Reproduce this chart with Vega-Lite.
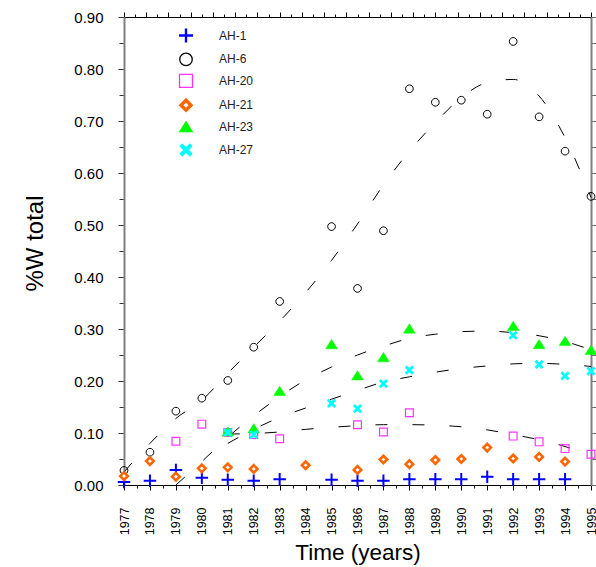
{
  "$schema": "https://vega.github.io/schema/vega-lite/v6.json",
  "width": 467,
  "height": 468,
  "autosize": "none",
  "padding": {"left": 124, "top": 17, "right": 5, "bottom": 82},
  "background": "white",
  "config": {
    "view": {"stroke": null},
    "axis": {"grid": false, "domainColor": "#000000", "tickColor": "#000000", "labelColor": "#000000", "titleColor": "#000000", "labelFont": "Liberation Sans", "titleFont": "Liberation Sans", "titleFontWeight": "normal"},
    "legend": {"labelFont": "Liberation Sans"}
  },
  "datasets": {
    "pts": [
      {"series": "AH-1", "year": 1977, "v": 0.006}, {"series": "AH-1", "year": 1978, "v": 0.008}, {"series": "AH-1", "year": 1979, "v": 0.029}, {"series": "AH-1", "year": 1980, "v": 0.014}, {"series": "AH-1", "year": 1981, "v": 0.010}, {"series": "AH-1", "year": 1982, "v": 0.008}, {"series": "AH-1", "year": 1983, "v": 0.011}, {"series": "AH-1", "year": 1985, "v": 0.010}, {"series": "AH-1", "year": 1986, "v": 0.008}, {"series": "AH-1", "year": 1987, "v": 0.008}, {"series": "AH-1", "year": 1988, "v": 0.011}, {"series": "AH-1", "year": 1989, "v": 0.011}, {"series": "AH-1", "year": 1990, "v": 0.011}, {"series": "AH-1", "year": 1991, "v": 0.016}, {"series": "AH-1", "year": 1992, "v": 0.011}, {"series": "AH-1", "year": 1993, "v": 0.011}, {"series": "AH-1", "year": 1994, "v": 0.011},
      {"series": "AH-6", "year": 1977, "v": 0.028}, {"series": "AH-6", "year": 1978, "v": 0.063}, {"series": "AH-6", "year": 1979, "v": 0.142}, {"series": "AH-6", "year": 1980, "v": 0.167}, {"series": "AH-6", "year": 1981, "v": 0.201}, {"series": "AH-6", "year": 1982, "v": 0.265}, {"series": "AH-6", "year": 1983, "v": 0.353}, {"series": "AH-6", "year": 1985, "v": 0.497}, {"series": "AH-6", "year": 1986, "v": 0.378}, {"series": "AH-6", "year": 1987, "v": 0.489}, {"series": "AH-6", "year": 1988, "v": 0.762}, {"series": "AH-6", "year": 1989, "v": 0.736}, {"series": "AH-6", "year": 1990, "v": 0.740}, {"series": "AH-6", "year": 1991, "v": 0.713}, {"series": "AH-6", "year": 1992, "v": 0.853}, {"series": "AH-6", "year": 1993, "v": 0.708}, {"series": "AH-6", "year": 1994, "v": 0.642}, {"series": "AH-6", "year": 1995, "v": 0.555},
      {"series": "AH-20", "year": 1979, "v": 0.084}, {"series": "AH-20", "year": 1980, "v": 0.117}, {"series": "AH-20", "year": 1981, "v": 0.101}, {"series": "AH-20", "year": 1982, "v": 0.097}, {"series": "AH-20", "year": 1983, "v": 0.089}, {"series": "AH-20", "year": 1986, "v": 0.116}, {"series": "AH-20", "year": 1987, "v": 0.102}, {"series": "AH-20", "year": 1988, "v": 0.139}, {"series": "AH-20", "year": 1992, "v": 0.094}, {"series": "AH-20", "year": 1993, "v": 0.083}, {"series": "AH-20", "year": 1994, "v": 0.070}, {"series": "AH-20", "year": 1995, "v": 0.059},
      {"series": "AH-21", "year": 1977, "v": 0.017}, {"series": "AH-21", "year": 1978, "v": 0.046}, {"series": "AH-21", "year": 1979, "v": 0.016}, {"series": "AH-21", "year": 1980, "v": 0.032}, {"series": "AH-21", "year": 1981, "v": 0.034}, {"series": "AH-21", "year": 1982, "v": 0.031}, {"series": "AH-21", "year": 1984, "v": 0.038}, {"series": "AH-21", "year": 1986, "v": 0.029}, {"series": "AH-21", "year": 1987, "v": 0.049}, {"series": "AH-21", "year": 1988, "v": 0.040}, {"series": "AH-21", "year": 1989, "v": 0.048}, {"series": "AH-21", "year": 1990, "v": 0.050}, {"series": "AH-21", "year": 1991, "v": 0.072}, {"series": "AH-21", "year": 1992, "v": 0.051}, {"series": "AH-21", "year": 1993, "v": 0.054}, {"series": "AH-21", "year": 1994, "v": 0.045},
      {"series": "AH-23", "year": 1981, "v": 0.103}, {"series": "AH-23", "year": 1982, "v": 0.109}, {"series": "AH-23", "year": 1983, "v": 0.181}, {"series": "AH-23", "year": 1985, "v": 0.271}, {"series": "AH-23", "year": 1986, "v": 0.211}, {"series": "AH-23", "year": 1987, "v": 0.246}, {"series": "AH-23", "year": 1988, "v": 0.301}, {"series": "AH-23", "year": 1992, "v": 0.306}, {"series": "AH-23", "year": 1993, "v": 0.271}, {"series": "AH-23", "year": 1994, "v": 0.277}, {"series": "AH-23", "year": 1995, "v": 0.260},
      {"series": "AH-27", "year": 1981, "v": 0.101}, {"series": "AH-27", "year": 1982, "v": 0.097}, {"series": "AH-27", "year": 1985, "v": 0.157}, {"series": "AH-27", "year": 1986, "v": 0.147}, {"series": "AH-27", "year": 1987, "v": 0.195}, {"series": "AH-27", "year": 1988, "v": 0.221}, {"series": "AH-27", "year": 1992, "v": 0.288}, {"series": "AH-27", "year": 1993, "v": 0.232}, {"series": "AH-27", "year": 1994, "v": 0.210}, {"series": "AH-27", "year": 1995, "v": 0.219}
    ],
    "fits": [
      {"fit": "AH-6", "year": 1977, "v": 0.025}, {"fit": "AH-6", "year": 1978, "v": 0.080}, {"fit": "AH-6", "year": 1979, "v": 0.128}, {"fit": "AH-6", "year": 1980, "v": 0.163}, {"fit": "AH-6", "year": 1981, "v": 0.215}, {"fit": "AH-6", "year": 1982, "v": 0.265}, {"fit": "AH-6", "year": 1983, "v": 0.315}, {"fit": "AH-6", "year": 1984, "v": 0.370}, {"fit": "AH-6", "year": 1985, "v": 0.432}, {"fit": "AH-6", "year": 1986, "v": 0.502}, {"fit": "AH-6", "year": 1987, "v": 0.577}, {"fit": "AH-6", "year": 1988, "v": 0.642}, {"fit": "AH-6", "year": 1989, "v": 0.697}, {"fit": "AH-6", "year": 1990, "v": 0.745}, {"fit": "AH-6", "year": 1991, "v": 0.774}, {"fit": "AH-6", "year": 1992, "v": 0.780}, {"fit": "AH-6", "year": 1993, "v": 0.748}, {"fit": "AH-6", "year": 1994, "v": 0.668}, {"fit": "AH-6", "year": 1995, "v": 0.553},
      {"fit": "AH-23", "year": 1979, "v": 0.0}, {"fit": "AH-23", "year": 1980, "v": 0.045}, {"fit": "AH-23", "year": 1981, "v": 0.092}, {"fit": "AH-23", "year": 1982, "v": 0.133}, {"fit": "AH-23", "year": 1983, "v": 0.170}, {"fit": "AH-23", "year": 1984, "v": 0.202}, {"fit": "AH-23", "year": 1985, "v": 0.227}, {"fit": "AH-23", "year": 1986, "v": 0.250}, {"fit": "AH-23", "year": 1987, "v": 0.267}, {"fit": "AH-23", "year": 1988, "v": 0.282}, {"fit": "AH-23", "year": 1989, "v": 0.290}, {"fit": "AH-23", "year": 1990, "v": 0.295}, {"fit": "AH-23", "year": 1991, "v": 0.296}, {"fit": "AH-23", "year": 1992, "v": 0.293}, {"fit": "AH-23", "year": 1993, "v": 0.287}, {"fit": "AH-23", "year": 1994, "v": 0.276}, {"fit": "AH-23", "year": 1995, "v": 0.260},
      {"fit": "AH-27", "year": 1981, "v": 0.080}, {"fit": "AH-27", "year": 1982, "v": 0.107}, {"fit": "AH-27", "year": 1983, "v": 0.130}, {"fit": "AH-27", "year": 1984, "v": 0.148}, {"fit": "AH-27", "year": 1985, "v": 0.165}, {"fit": "AH-27", "year": 1986, "v": 0.182}, {"fit": "AH-27", "year": 1987, "v": 0.198}, {"fit": "AH-27", "year": 1988, "v": 0.208}, {"fit": "AH-27", "year": 1989, "v": 0.217}, {"fit": "AH-27", "year": 1990, "v": 0.224}, {"fit": "AH-27", "year": 1991, "v": 0.229}, {"fit": "AH-27", "year": 1992, "v": 0.233}, {"fit": "AH-27", "year": 1993, "v": 0.234}, {"fit": "AH-27", "year": 1994, "v": 0.232}, {"fit": "AH-27", "year": 1995, "v": 0.228},
      {"fit": "AH-20", "year": 1981, "v": 0.098}, {"fit": "AH-20", "year": 1982, "v": 0.099}, {"fit": "AH-20", "year": 1983, "v": 0.102}, {"fit": "AH-20", "year": 1984, "v": 0.107}, {"fit": "AH-20", "year": 1985, "v": 0.111}, {"fit": "AH-20", "year": 1986, "v": 0.114}, {"fit": "AH-20", "year": 1987, "v": 0.116}, {"fit": "AH-20", "year": 1988, "v": 0.116}, {"fit": "AH-20", "year": 1989, "v": 0.115}, {"fit": "AH-20", "year": 1990, "v": 0.112}, {"fit": "AH-20", "year": 1991, "v": 0.106}, {"fit": "AH-20", "year": 1992, "v": 0.097}, {"fit": "AH-20", "year": 1993, "v": 0.087}, {"fit": "AH-20", "year": 1994, "v": 0.074}, {"fit": "AH-20", "year": 1995, "v": 0.058}
    ],
    "frame": [{"t": 0, "u": 0}]
  },
  "resolve": {
    "scale": {"x": "independent", "shape": "independent", "stroke": "independent", "fill": "independent", "strokeWidth": "independent"},
    "axis": {"x": "independent", "y": "independent"}
  },
  "layer": [
    {
      "data": {"name": "frame"},
      "mark": {"type": "point", "opacity": 0},
      "encoding": {
        "x": {"field": "t", "type": "quantitative", "scale": {"domain": [0, 42], "nice": false, "zero": false},
          "axis": {"orient": "top", "values": [0,2,4,6,8,10,12,14,16,18,20,22,24,26,28,30,32,34,36,38,40,42], "tickSize": 5, "labels": false, "title": null, "domainColor": "#000000", "tickColor": "#000000"}},
        "y": {"field": "u", "type": "quantitative", "scale": {"domain": [0, 0.9], "nice": false, "zero": false},
          "axis": {"orient": "right", "values": [0,0.05,0.1,0.15,0.2,0.25,0.3,0.35,0.4,0.45,0.5,0.55,0.6,0.65,0.7,0.75,0.8,0.85,0.9], "tickSize": 5, "labels": false, "title": null, "domainColor": "#808080", "domainWidth": 2, "tickColor": "#666666"}}
      }
    },
    {
      "data": {"name": "frame"},
      "mark": {"type": "point", "opacity": 0},
      "encoding": {
        "x": {"field": "t", "type": "quantitative", "scale": {"domain": [0, 42], "nice": false, "zero": false},
          "axis": {"orient": "top", "values": [1,3,5,7,9,11,13,15,17,19,21,23,25,27,29,31,33,35,37,39,41], "tickSize": 3, "labels": false, "title": null, "domain": false, "tickColor": "#000000"}},
        "y": {"field": "u", "type": "quantitative", "scale": {"domain": [0, 0.9], "nice": false, "zero": false}, "axis": null}
      }
    },
    {
      "data": {"name": "fits"},
      "mark": {"type": "line", "stroke": "#000000", "strokeWidth": 1, "strokeDash": [12, 25], "interpolate": "monotone"},
      "encoding": {
        "x": {"field": "year", "type": "quantitative", "scale": {"domain": [1977, 1995], "nice": false, "zero": false},
          "axis": {"orient": "bottom", "values": [1977.5,1978.5,1979.5,1980.5,1981.5,1982.5,1983.5,1984.5,1985.5,1986.5,1987.5,1988.5,1989.5,1990.5,1991.5,1992.5,1993.5,1994.5], "tickSize": 3, "labels": false, "domain": false, "title": null, "tickColor": "#000000"}},
        "y": {"field": "v", "type": "quantitative", "scale": {"domain": [0, 0.9], "nice": false, "zero": false},
          "axis": {"orient": "left", "values": [0.05,0.15,0.25,0.35,0.45,0.55,0.65,0.75,0.85], "tickSize": 5, "labels": false, "domain": false, "title": null, "tickColor": "#333333"}},
        "detail": {"field": "fit", "type": "nominal"}
      }
    },
    {
      "data": {"name": "pts"},
      "mark": {"type": "point", "filled": true, "opacity": 1, "size": 100},
      "encoding": {
        "x": {"field": "year", "type": "quantitative", "scale": {"domain": [1977, 1995], "nice": false, "zero": false},
          "axis": {"orient": "bottom", "values": [1977,1978,1979,1980,1981,1982,1983,1984,1985,1986,1987,1988,1989,1990,1991,1992,1993,1994,1995], "format": "d", "labelAngle": -90, "labelFontSize": 12.5, "labelPadding": 17, "tickSize": 5, "title": "Time (years)", "titleFontSize": 22.5, "titleX": 233.5, "titleY": 74, "titleAlign": "center", "titleBaseline": "alphabetic", "domainColor": "#000000", "labelFlush": false, "labelOverlap": false}},
        "y": {"field": "v", "type": "quantitative", "scale": {"domain": [0, 0.9], "nice": false, "zero": false},
          "axis": {"orient": "left", "values": [0,0.1,0.2,0.3,0.4,0.5,0.6,0.7,0.8,0.9], "format": ".2f", "labelFontSize": 15, "labelPadding": 15, "tickSize": 6, "tickColor": "#333333", "domainColor": "#808080", "domainWidth": 2, "title": "%W total", "titleFontSize": 24, "titleAngle": -90, "titleX": -82, "titleY": 226, "titleAlign": "center", "titleBaseline": "alphabetic", "labelFlush": false, "labelOverlap": false}},
        "shape": {"field": "series", "type": "nominal", "legend": null,
          "scale": {"domain": ["AH-1","AH-6","AH-20","AH-21","AH-23","AH-27"],
            "range": ["M-1.25,0H1.25M0,-1.25V1.25", "M-0.77,0A0.77,0.77,0,1,1,0.77,0A0.77,0.77,0,1,1,-0.77,0Z", "M-0.78,-0.78H0.78V0.78H-0.78Z", "M0,-0.75L0.75,0L0,0.75L-0.75,0Z", "M0,-0.93L1.17,0.93L-1.17,0.93Z", "M-0.72,-0.72L0.72,0.72M0.72,-0.72L-0.72,0.72"]}},
        "stroke": {"field": "series", "type": "nominal", "legend": null,
          "scale": {"domain": ["AH-1","AH-6","AH-20","AH-21","AH-23","AH-27"], "range": ["#0000ff","#000000","#ff33ff","#ff6600","#00ff00","#00ffff"]}},
        "fill": {"field": "series", "type": "nominal", "legend": null,
          "scale": {"domain": ["AH-1","AH-6","AH-20","AH-21","AH-23","AH-27"], "range": ["transparent","transparent","transparent","#ffffff","#00ff00","transparent"]}},
        "strokeWidth": {"field": "series", "type": "nominal", "legend": null,
          "scale": {"type": "ordinal", "domain": ["AH-1","AH-6","AH-20","AH-21","AH-23","AH-27"], "range": [2, 1, 1.2, 2.6, 0.5, 2.8]}}
      }
    },
    {
      "data": {"name": "pts"},
      "transform": [{"filter": "false"}],
      "mark": {"type": "point", "filled": true, "opacity": 1, "size": 100},
      "encoding": {
        "x": {"field": "year", "type": "quantitative", "scale": {"domain": [1977, 1995], "nice": false, "zero": false}, "axis": null},
        "y": {"field": "v", "type": "quantitative", "scale": {"domain": [0, 0.9], "nice": false, "zero": false}, "axis": null},
        "shape": {"field": "series", "type": "nominal",
          "scale": {"domain": ["AH-1","AH-6","AH-20","AH-21","AH-23","AH-27"],
            "range": ["M-1.4,0H1.4M0,-1.4V1.4", "M-1.25,0A1.25,1.25,0,1,1,1.25,0A1.25,1.25,0,1,1,-1.25,0Z", "M-1.3,-1.3H1.3V1.3H-1.3Z", "M0,-1L1,0L0,1L-1,0Z", "M0,-1.1L1.4,1.1L-1.4,1.1Z", "M-1.05,-1.05L1.05,1.05M1.05,-1.05L-1.05,1.05"]},
          "legend": {"title": null, "orient": "none", "legendX": 55, "legendY": 12, "padding": 0, "symbolSize": 100, "labelFontSize": 12, "labelColor": "#222222", "labelOffset": 26, "rowPadding": 2.4}},
        "stroke": {"field": "series", "type": "nominal",
          "scale": {"domain": ["AH-1","AH-6","AH-20","AH-21","AH-23","AH-27"], "range": ["#0000ff","#000000","#ff33ff","#ff6600","#00ff00","#00ffff"]},
          "legend": {"title": null, "orient": "none", "legendX": 55, "legendY": 12, "padding": 0, "symbolSize": 100, "labelFontSize": 12, "labelColor": "#222222", "labelOffset": 26, "rowPadding": 2.4}},
        "fill": {"field": "series", "type": "nominal",
          "scale": {"domain": ["AH-1","AH-6","AH-20","AH-21","AH-23","AH-27"], "range": ["transparent","transparent","transparent","#ffffff","#00ff00","transparent"]},
          "legend": {"title": null, "orient": "none", "legendX": 55, "legendY": 12, "padding": 0, "symbolSize": 100, "labelFontSize": 12, "labelColor": "#222222", "labelOffset": 26, "rowPadding": 2.4}},
        "strokeWidth": {"field": "series", "type": "nominal",
          "scale": {"type": "ordinal", "domain": ["AH-1","AH-6","AH-20","AH-21","AH-23","AH-27"], "range": [2.4, 1.3, 1.3, 3.4, 0.5, 4]},
          "legend": {"title": null, "orient": "none", "legendX": 55, "legendY": 12, "padding": 0, "symbolSize": 100, "labelFontSize": 12, "labelColor": "#222222", "labelOffset": 26, "rowPadding": 2.4}}
      }
    }
  ]
}
